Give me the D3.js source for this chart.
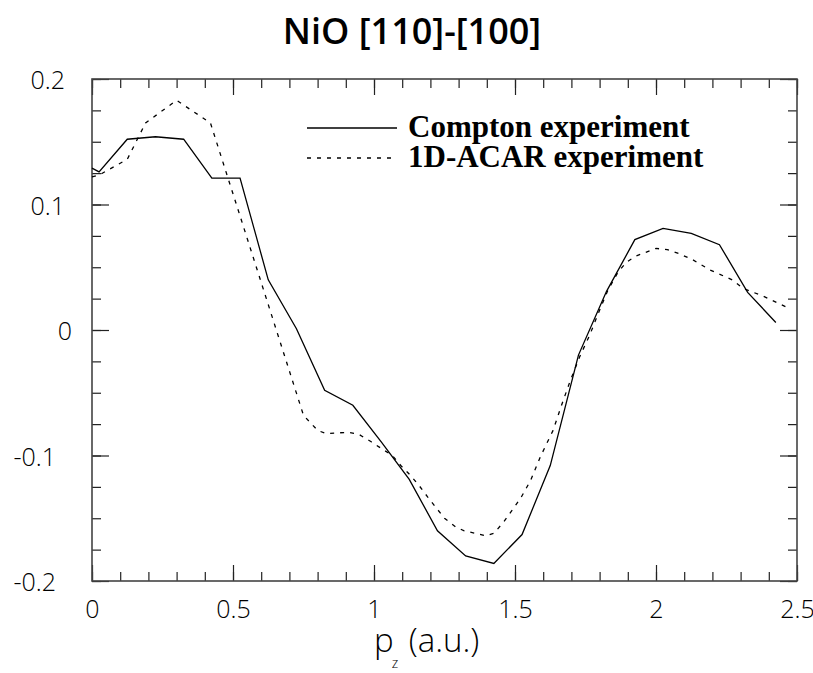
<!DOCTYPE html>
<html>
<head>
<meta charset="utf-8">
<script src="https://cdn.jsdelivr.net/npm/d3@7"></script>
<style>
  body { margin: 0; background: #fff; }
  svg { display: block; }
  .tick text { font-family: "Open Sans", sans-serif; font-weight: 300; font-size: 25px; fill: #000; }
</style>
</head>
<body>
<svg width="813" height="673"></svg>
<script>
// Compton experiment (solid)
const comptonP = [0, 0.025, 0.125, 0.225, 0.325, 0.425, 0.525, 0.625, 0.725, 0.825, 0.925, 1.025,
    1.125, 1.225, 1.325, 1.425, 1.525, 1.625, 1.725, 1.825, 1.925, 2.025, 2.125, 2.225, 2.325, 2.425];
const comptonY = [0.129, 0.126, 0.152, 0.154, 0.152, 0.121, 0.121, 0.040, 0.001, -0.048, -0.060, -0.089,
    -0.119, -0.160, -0.180, -0.186, -0.163, -0.108, -0.020, 0.031, 0.072, 0.081, 0.077, 0.068, 0.030, 0.006];

// 1D-ACAR experiment (dashed)
const acarP = [0, 0.025, 0.125, 0.19, 0.30, 0.42, 0.75, 0.80, 0.83, 0.91, 0.945, 0.99, 1.03, 1.065,
    1.095, 1.13, 1.16, 1.19, 1.25, 1.29, 1.32, 1.36, 1.395, 1.425, 1.46, 1.52, 1.555, 1.59, 1.635,
    1.665, 1.695, 1.73, 1.765, 1.795, 1.83, 1.865, 1.895, 1.93, 2.0, 2.04, 2.08, 2.13, 2.19, 2.27,
    2.31, 2.38, 2.465];
const acarY = [0.122, 0.1235, 0.136, 0.165, 0.183, 0.165, -0.068, -0.080, -0.0825, -0.0815, -0.083,
    -0.089, -0.095, -0.100, -0.108, -0.116, -0.124, -0.133, -0.150, -0.157, -0.160, -0.162, -0.164,
    -0.162, -0.153, -0.134, -0.120, -0.101, -0.080, -0.060, -0.041, -0.021, -0.004, 0.013, 0.032,
    0.046, 0.054, 0.059, 0.065, 0.064, 0.061, 0.056, 0.048, 0.040, 0.033, 0.027, 0.018];

const xMajor = [0, 0.5, 1, 1.5, 2, 2.5];
const xMinor = d3.range(0, 26).map(i => i / 10);
const yMajor = [-0.2, -0.1, 0, 0.1, 0.2];
const yMinor = d3.range(-8, 9).map(i => i * 0.025);

const series = [
    { name: "Compton experiment", p: comptonP, v: comptonY, dash: null },
    { name: "1D-ACAR experiment", p: acarP, v: acarY, dash: "4,6" }
];

const margin = { left: 92, right: 16, top: 79, bottom: 92 };
const W = 813, H = 673;
const iw = W - margin.left - margin.right;
const ih = H - margin.top - margin.bottom;

const svg = d3.select("svg");
svg.append("rect").attr("width", W).attr("height", H).attr("fill", "#fff");

const g = svg.append("g").attr("transform", `translate(${margin.left},${margin.top})`);

const x = d3.scaleLinear().domain([0, 2.5]).range([0, iw]);
const y = d3.scaleLinear().domain([-0.2, 0.2]).range([ih, 0]);

// plain hyphen for negatives, like the original
const fmtX = d => String(d);
const fmtY = d => d === 0 ? "0" : d.toFixed(1);

// minor ticks
g.append("g").attr("transform", `translate(0,${ih})`)
    .call(d3.axisBottom(x).tickValues(xMinor).tickSize(-9).tickFormat(""));
g.append("g")
    .call(d3.axisTop(x).tickValues(xMinor).tickSize(-9).tickFormat(""));
g.append("g")
    .call(d3.axisLeft(y).tickValues(yMinor).tickSize(-9).tickFormat(""));
g.append("g").attr("transform", `translate(${iw},0)`)
    .call(d3.axisRight(y).tickValues(yMinor).tickSize(-9).tickFormat(""));

// major ticks
g.append("g").attr("transform", `translate(0,${ih})`)
    .call(d3.axisBottom(x).tickValues(xMajor).tickSize(-16).tickPadding(19).tickFormat(fmtX));
g.append("g")
    .call(d3.axisTop(x).tickValues(xMajor).tickSize(-16).tickFormat(""));
const yAxis = g.append("g")
    .call(d3.axisLeft(y).tickValues(yMajor).tickSize(-17).tickPadding(27).tickFormat(fmtY));
g.append("g").attr("transform", `translate(${iw},0)`)
    .call(d3.axisRight(y).tickValues(yMajor).tickSize(-17).tickFormat(""));

// the original nudges the zero right and the negatives left
yAxis.selectAll(".tick text")
    .attr("dx", d => d === 0 ? 7 : d < 0 ? -9 : 0)
    .attr("dy", "0.38em");

g.selectAll(".domain").remove();
g.selectAll(".tick line").attr("stroke", "#222").attr("stroke-width", 1.2);

// frame
g.append("rect")
    .attr("width", iw).attr("height", ih)
    .attr("fill", "none").attr("stroke", "#444").attr("stroke-width", 1.6);

// curves
const line = d3.line().x(d => x(d[0])).y(d => y(d[1]));
series.forEach(s => {
    g.append("path")
        .datum(s.p.map((p, i) => [p, s.v[i]]))
        .attr("d", line)
        .attr("fill", "none")
        .attr("stroke", "#000")
        .attr("stroke-width", 1.3)
        .attr("stroke-dasharray", s.dash);
});

// legend
const legend = svg.append("g").attr("transform", "translate(307,128)");
series.forEach((s, i) => {
    const row = legend.append("g").attr("transform", `translate(0,${i * 30})`);
    row.append("line").attr("x1", 0).attr("x2", 90)
        .attr("stroke", "#000").attr("stroke-width", 1.3)
        .attr("stroke-dasharray", s.dash);
    row.append("text").attr("x", 101).attr("y", 9)
        .attr("font-family", "Liberation Serif, serif").attr("font-weight", "bold")
        .attr("font-size", 31).text(s.name);
});

// title
svg.append("text").attr("x", 412).attr("y", 44).attr("text-anchor", "middle")
    .attr("font-family", "Open Sans, sans-serif").attr("font-weight", 600)
    .attr("font-size", 36).text("NiO [110]-[100]");

// x axis title
const xt = svg.append("text").attr("x", 374).attr("y", 652)
    .attr("font-family", "Open Sans, sans-serif").attr("font-weight", 300).attr("font-size", 33);
xt.append("tspan").text("p");
xt.append("tspan").attr("dx", -2).attr("dy", 16).attr("font-size", 14).text("z");
xt.append("tspan").attr("dx", 2).attr("dy", -16).text(" (a.u.)");
</script>
</body>
</html>
